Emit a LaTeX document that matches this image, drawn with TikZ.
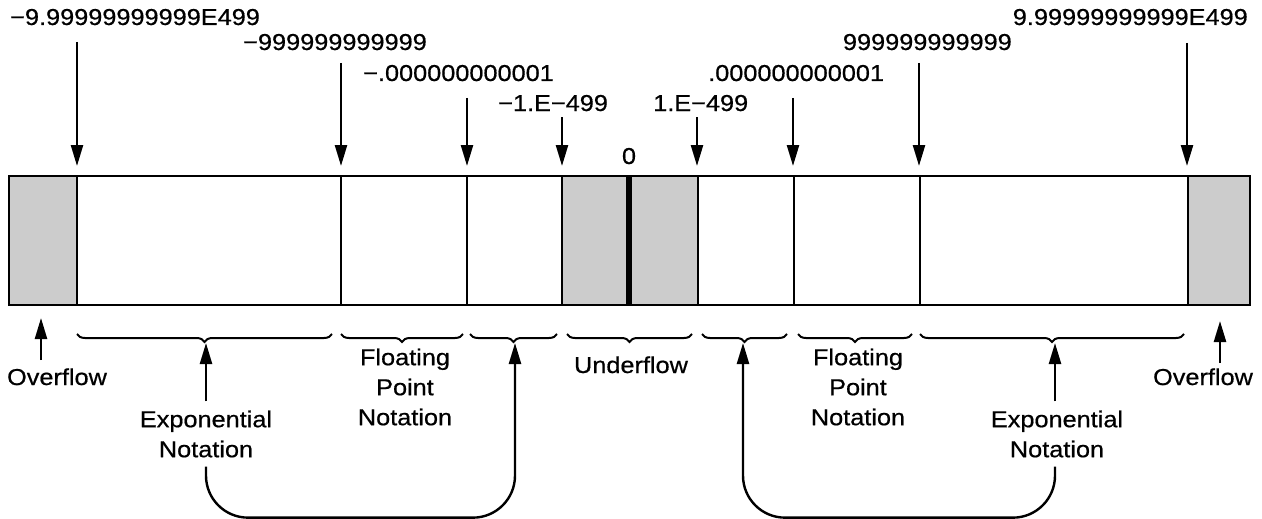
\documentclass[tikz,border=0pt]{standalone}
\usepackage{fontspec}
\setmainfont[FakeStretch=1.1,FakeBold=0.6]{Liberation Sans}
\usetikzlibrary{arrows.meta,decorations.pathreplacing}
\begin{document}
\begin{tikzpicture}[x=1pt,y=-1pt,
  lbl/.style={font=\fontsize{23}{30}\selectfont, inner sep=0pt},
  arr/.style={line width=2.4pt, -{Triangle[length=21pt,width=12pt]}},
  conn/.style={line width=2.4pt, rounded corners=42pt, -{Triangle[length=21pt,width=12pt]}},
  brc/.style={line width=2pt, decorate, decoration={brace,mirror,amplitude=8pt}},
  cellline/.style={line width=2pt},
  shade/.style={fill=black!20}]
\useasboundingbox (0,0) rectangle (1262,519);

% bar
\fill[shade] (9,176) rectangle (77,305);
\fill[shade] (562,176) rectangle (698,305);
\fill[shade] (1188,176) rectangle (1250,305);
\draw[cellline] (9,176) rectangle (1250,305);
\foreach \x in {77,341,467,562,698,794,920,1188}
  \draw[cellline] (\x,176) -- (\x,305);
\draw[line width=6pt] (629,177) -- (629,304);

% top labels
\node[lbl, anchor=base west] (l1) at (10,25) {−9.99999999999E499};
\node[lbl, anchor=base west] (l2) at (243,50) {−999999999999};
\node[lbl, anchor=base west] (l3) at (363,81) {−.000000000001};
\node[lbl, anchor=base west] (l4) at (498,111) {−1.E−499};
\node[lbl, anchor=base] (l5) at (629,164) {0};
\node[lbl, anchor=base west] (l6) at (653,111) {1.E−499};
\node[lbl, anchor=base west] (l7) at (708,81) {.000000000001};
\node[lbl, anchor=base east] (l8) at (1012,50) {999999999999};
\node[lbl, anchor=base east] (l9) at (1248,25) {9.99999999999E499};

% arrow coordinates
\coordinate (s1) at (77,42);   \coordinate (t1) at (77,166);
\coordinate (s2) at (341,63);  \coordinate (t2) at (341,166);
\coordinate (s3) at (467,98);  \coordinate (t3) at (467,166);
\coordinate (s4) at (562,117); \coordinate (t4) at (562,166);
\coordinate (s5) at (697,117); \coordinate (t5) at (697,166);
\coordinate (s6) at (793,98);  \coordinate (t6) at (793,166);
\coordinate (s7) at (919,63);  \coordinate (t7) at (919,166);
\coordinate (s8) at (1187,43); \coordinate (t8) at (1187,166);
\foreach \i in {1,...,8}
  \draw[arr] (s\i) -- (t\i);

% braces
\draw[brc] (77,334) -- (332,334);
\draw[brc] (341,334) -- (463,334);
\draw[brc] (470,334) -- (557,334);
\draw[brc] (567,334) -- (692,334);
\draw[brc] (702,334) -- (787,334);
\draw[brc] (798,334) -- (912,334);
\draw[brc] (920,334) -- (1184,334);

% bottom labels
\node[lbl, anchor=base] (ovl) at (57,385) {Overflow};
\node[lbl, anchor=base] (ovr) at (1203,385) {Overflow};
\node[lbl, anchor=base] (und) at (631,373) {Underflow};
\node[lbl, align=center] (expl) at (206,434) {Exponential\\Notation};
\node[lbl, align=center] (fpl) at (405,387) {Floating\\Point\\Notation};
\node[lbl, align=center] (fpr) at (858,387) {Floating\\Point\\Notation};
\node[lbl, align=center] (expr) at (1057,434) {Exponential\\Notation};

% brace pointers
\coordinate (ol0) at (41,360);  \coordinate (ol1) at (41,318);
\coordinate (or0) at (1220,363); \coordinate (or1) at (1220,321);
\coordinate (c1) at (206,343);
\coordinate (c3) at (515,343);
\coordinate (c4) at (743,343);
\coordinate (c6) at (1055,343);
\draw[arr] (ol0) -- (ol1);
\draw[arr] (or0) -- (or1);
\draw[arr] ([yshift=9pt]expl.north) -- (c1);
\draw[arr] ([yshift=9pt]expr.north -| c6) -- (c6);

% loops
\draw[conn] ([yshift=-9pt]expl.south) -- ++(0,51) -| (c3);
\draw[conn] ([yshift=-9pt]expr.south -| c6) -- ++(0,51) -| (c4);
\end{tikzpicture}
\end{document}
